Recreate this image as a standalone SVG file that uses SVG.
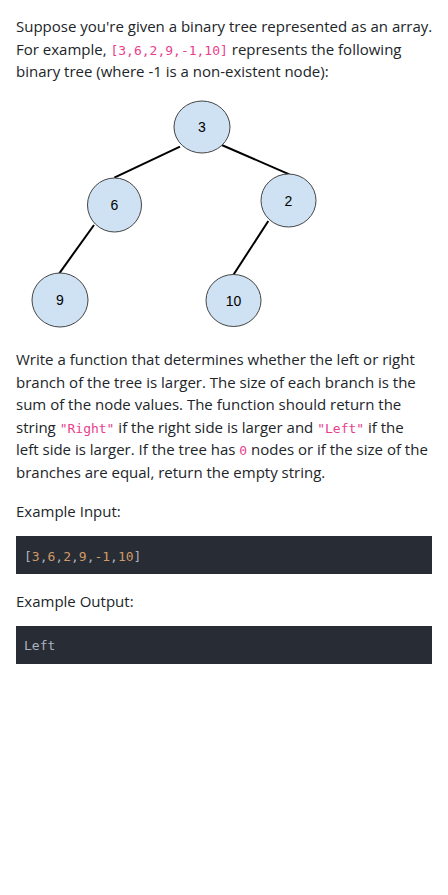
<svg xmlns="http://www.w3.org/2000/svg" width="448" height="895" viewBox="0 0 448 895">
<style>
.p{font-family:"Open Sans","Noto Sans",sans-serif;font-size:15px;fill:#212529}
.c{font-family:"DejaVu Sans Mono","Liberation Mono",monospace;font-size:13px;fill:#e83e8c}
.n ellipse{fill:#cfe2f3;stroke:#444;stroke-width:1}
.n text{font-family:"Liberation Sans",Arial,sans-serif;font-size:14px;fill:#000;text-anchor:middle}
.e line{stroke:#000;stroke-width:2}
.blk{fill:#282c34}
.cb{font-family:"DejaVu Sans Mono","Liberation Mono",monospace;font-size:13px;fill:#abb2bf}
.num{fill:#d19a66}
</style>
<rect width="448" height="895" fill="#fff"/>
<g id="intro">
<text class="p" x="16" y="32">Suppose you're given a binary tree represented as an array.</text>
<text class="p" x="16" y="54.5">For example, <tspan class="c">[3,6,2,9,-1,10]</tspan> represents the following</text>
<text class="p" x="16" y="77">binary tree (where -1 is a non-existent node):</text>
</g>
<g id="connectors" class="e">
<line x1="180" y1="146.7" x2="114.3" y2="177.7"/>
<line x1="221.7" y1="145" x2="289.3" y2="174.3"/>
<line x1="94" y1="225" x2="59.3" y2="273.3"/>
<line x1="268.3" y1="221" x2="233.3" y2="275"/>
</g>
<g id="node-3" class="n"><ellipse cx="202" cy="127" rx="28" ry="26"/><text x="202" y="132">3</text></g>
<g id="node-6" class="n"><ellipse cx="114.5" cy="205" rx="27" ry="27"/><text x="114.5" y="210">6</text></g>
<g id="node-2" class="n"><ellipse cx="288.5" cy="200.5" rx="27.5" ry="26.5"/><text x="288.5" y="205.5">2</text></g>
<g id="node-9" class="n"><ellipse cx="60" cy="300" rx="28" ry="27"/><text x="60" y="305">9</text></g>
<g id="node-10" class="n"><ellipse cx="233.5" cy="300.5" rx="27.5" ry="26"/><text x="233.5" y="305.5">10</text></g>
<g id="desc">
<text class="p" x="16" y="365">Write a function that determines whether the left or right</text>
<text class="p" x="16" y="387.5">branch of the tree is larger. The size of each branch is the</text>
<text class="p" x="16" y="410">sum of the node values. The function should return the</text>
<text class="p" x="16" y="432.5">string <tspan class="c">"Right"</tspan> if the right side is larger and <tspan class="c">"Left"</tspan> if the</text>
<text class="p" x="16" y="455">left side is larger. If the tree has <tspan class="c">0</tspan> nodes or if the size of the</text>
<text class="p" x="16" y="477.5">branches are equal, return the empty string.</text>
</g>
<g id="example-input">
<text class="p" x="16" y="516.7">Example Input:</text>
<rect class="blk" x="16" y="536" width="416" height="38"/>
<text class="cb" x="24" y="560.5">[<tspan class="num">3</tspan>,<tspan class="num">6</tspan>,<tspan class="num">2</tspan>,<tspan class="num">9</tspan>,<tspan class="num">-1</tspan>,<tspan class="num">10</tspan>]</text>
</g>
<g id="example-output">
<text class="p" x="16" y="606.7">Example Output:</text>
<rect class="blk" x="16" y="626" width="416" height="38"/>
<text class="cb" x="24" y="650">Left</text>
</g>
</svg>
